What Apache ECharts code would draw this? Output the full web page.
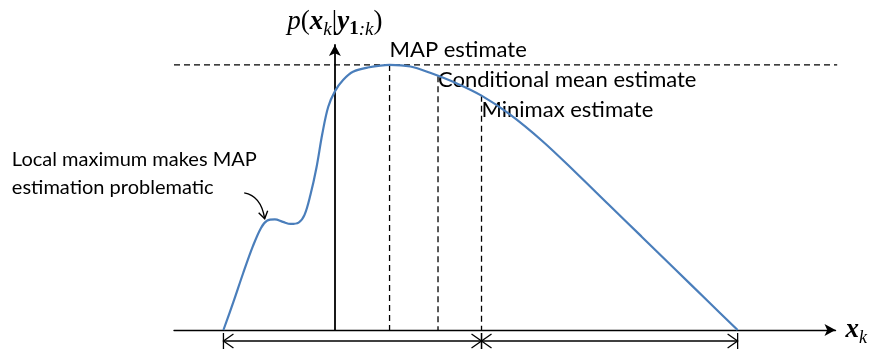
<!DOCTYPE html>
<html>
<head>
<meta charset="utf-8">
<script src="https://cdn.jsdelivr.net/npm/echarts@6/dist/echarts.min.js"></script>
<style>
html,body{margin:0;padding:0;background:#fff;}
#main{width:870px;height:349px;}
</style>
</head>
<body>
<div id="main"></div>
<script>
// Posterior density curve p(x_k | y_1:k)
const curveX = [-11.27, -10.27, -9.27, -8.27, -7.47, -6.87, -6.07, -5.27, -4.47, -3.67, -3.07, -2.47, -1.87, -1.27, -0.67, 0.03, 0.83, 1.83, 3.33, 5.53, 7.63, 9.63, 12.33, 14.83, 17.63, 21.0, 24.33, 27.63, 31.0, 34.33, 37.63, 40.73];
const curveY = [0, 0.105, 0.215, 0.318, 0.385, 0.412, 0.417, 0.408, 0.400, 0.405, 0.434, 0.510, 0.611, 0.740, 0.842, 0.902, 0.943, 0.974, 0.990, 1.0, 0.994, 0.970, 0.930, 0.884, 0.815, 0.712, 0.595, 0.475, 0.353, 0.232, 0.112, 0];

// Estimates
const estimateNames = ['MAP estimate', 'Conditional mean estimate', 'Minimax estimate'];
const estimateX = [5.53, 10.43, 14.83];
const estimateY = [1.0, 0.957, 0.884];
const estimateLabelY = [1.057, 0.943, 0.83];

// Peak level (dashed horizontal reference)
const peakLevel = 1.0;
const peakLineX = [-16.27, 50.8];

// Support intervals (double arrows under axis)
const intervalStart = [-11.27, 14.83];
const intervalEnd = [14.83, 40.73];
const intervalLevel = -0.0415;

// Local maximum annotation
const noteText = 'Local maximum makes MAP\nestimation problematic';
const noteAnchor = [-32.67, 0.59];
const noteArrowFrom = [-9.17, 0.517];
const noteArrowCtrl = [-7.47, 0.506];
const noteArrowTo = [-7.1, 0.42];

const TXT = 'Lato, "Open Sans", sans-serif';
const SERIF = '"Liberation Serif", "DejaVu Serif", serif';

const chart = echarts.init(document.getElementById('main'), null, {renderer: 'canvas'});

const curveData = curveX.map((x, i) => [x, curveY[i]]);
const DASH = {stroke: '#000', lineWidth: 1.3, lineDash: [6, 4]};

const option = {
  animation: false,
  backgroundColor: '#fff',
  grid: {left: 174, right: 27, top: 45, bottom: 19, containLabel: false},
  xAxis: {
    type: 'value', min: -16.27, max: 50.63,
    splitLine: {show: false}, axisTick: {show: false}, axisLabel: {show: false},
    axisLine: {show: true, onZero: true, lineStyle: {color: '#000', width: 1.4}, symbol: ['none', 'arrow'], symbolSize: [9, 11]},
    name: '{b|x}{s|k}',
    nameLocation: 'end', nameGap: 10,
    nameTextStyle: {
      rich: {
        b: {fontFamily: SERIF, fontStyle: 'italic', fontWeight: 'bold', fontSize: 27, color: '#000', verticalAlign: 'middle', lineHeight: 34},
        s: {fontFamily: SERIF, fontStyle: 'italic', fontSize: 18, color: '#000', verticalAlign: 'bottom', lineHeight: 34}
      }
    }
  },
  yAxis: {
    type: 'value', min: 0, max: 1.075,
    splitLine: {show: false}, axisTick: {show: false}, axisLabel: {show: false},
    axisLine: {show: true, onZero: true, lineStyle: {color: '#000', width: 1.8}, symbol: ['none', 'arrow'], symbolSize: [9, 11]},
    name: '{i|p}{n|(}{b|x}{s|k}{n||}{b|y}{sb|1}{s|:k}{n|)}',
    nameLocation: 'end', nameGap: 6,
    nameTextStyle: {
      align: 'center',
      rich: {
        i: {fontFamily: SERIF, fontStyle: 'italic', fontSize: 27, color: '#000', verticalAlign: 'middle', lineHeight: 34},
        n: {fontFamily: SERIF, fontSize: 27, color: '#000', verticalAlign: 'middle', lineHeight: 34},
        b: {fontFamily: SERIF, fontStyle: 'italic', fontWeight: 'bold', fontSize: 27, color: '#000', verticalAlign: 'middle', lineHeight: 34},
        s: {fontFamily: SERIF, fontStyle: 'italic', fontSize: 19, color: '#000', verticalAlign: 'bottom', lineHeight: 34},
        sb: {fontFamily: SERIF, fontWeight: 'bold', fontSize: 19, color: '#000', verticalAlign: 'bottom', lineHeight: 34}
      }
    }
  },
  series: [
    {
      type: 'custom', name: 'peak level', clip: false, silent: true,
      data: [[peakLineX[0], peakLineX[1], peakLevel]],
      renderItem: function (params, api) {
        const a = api.coord([api.value(0), api.value(2)]);
        const b = api.coord([api.value(1), api.value(2)]);
        return {type: 'line', shape: {x1: a[0], y1: a[1], x2: b[0], y2: b[1]}, style: DASH};
      }
    },
    {
      type: 'custom', name: 'estimates', clip: false, silent: true,
      data: estimateX.map((x, i) => [x, estimateY[i], estimateLabelY[i], i]),
      renderItem: function (params, api) {
        const x = api.value(0);
        const top = api.coord([x, api.value(1)]);
        const bot = api.coord([x, 0]);
        const lab = api.coord([x, api.value(2)]);
        return {
          type: 'group',
          children: [
            {type: 'line', shape: {x1: top[0], y1: top[1], x2: bot[0], y2: bot[1]}, style: DASH},
            {type: 'text', x: lab[0], y: lab[1],
             style: {text: estimateNames[api.value(3)], fill: '#000', font: '22px ' + TXT, align: 'left', verticalAlign: 'middle'}}
          ]
        };
      }
    },
    {
      type: 'line', name: 'posterior', smooth: 0.35, symbol: 'none', clip: false,
      data: curveData,
      lineStyle: {color: '#4a7ebb', width: 2.2}
    },
    {
      type: 'custom', name: 'intervals', clip: false, silent: true,
      data: intervalStart.map((s, i) => [s, intervalEnd[i]]),
      renderItem: function (params, api) {
        const p1 = api.coord([api.value(0), intervalLevel]);
        const p2 = api.coord([api.value(1), intervalLevel]);
        const st = {stroke: '#000', lineWidth: 1.3, fill: null};
        return {
          type: 'group',
          children: [
            {type: 'line', shape: {x1: p1[0], y1: p1[1], x2: p2[0], y2: p2[1]}, style: st},
            {type: 'polyline', shape: {points: [[p1[0] + 10, p1[1] - 7], [p1[0], p1[1]], [p1[0] + 10, p1[1] + 7]]}, style: st},
            {type: 'polyline', shape: {points: [[p2[0] - 10, p2[1] - 7], [p2[0], p2[1]], [p2[0] - 10, p2[1] + 7]]}, style: st},
            {type: 'line', shape: {x1: p1[0], y1: p1[1] - 8, x2: p1[0], y2: p1[1] + 8}, style: st},
            {type: 'line', shape: {x1: p2[0], y1: p2[1] - 8, x2: p2[0], y2: p2[1] + 8}, style: st}
          ]
        };
      }
    },
    {
      type: 'custom', name: 'note', clip: false, silent: true,
      data: [[noteAnchor[0], noteAnchor[1]]],
      renderItem: function (params, api) {
        const t = api.coord(noteAnchor);
        const a = api.coord(noteArrowFrom);
        const c = api.coord(noteArrowCtrl);
        const b = api.coord(noteArrowTo);
        const st = {stroke: '#000', lineWidth: 1.4, fill: null};
        return {
          type: 'group',
          children: [
            {type: 'text', x: t[0], y: t[1],
             style: {text: noteText, fill: '#000', font: '20px ' + TXT, lineHeight: 28, align: 'left', verticalAlign: 'middle'}},
            {type: 'bezierCurve', shape: {x1: a[0], y1: a[1], cpx1: c[0], cpy1: c[1], x2: b[0], y2: b[1]}, style: st},
            {type: 'polyline', shape: {points: [[b[0] - 6, b[1] - 6], [b[0], b[1]], [b[0] + 3, b[1] - 8]]}, style: st}
          ]
        };
      }
    }
  ]
};
chart.setOption(option);
</script>
</body>
</html>
